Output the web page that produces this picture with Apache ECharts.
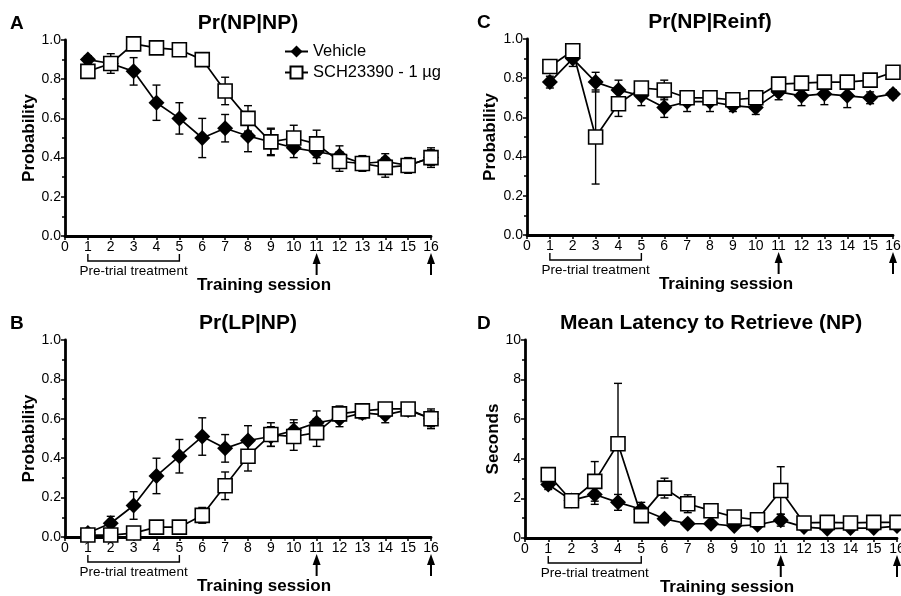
<!DOCTYPE html>
<html lang="en">
<head>
  <meta charset="UTF-8">
  <title>Training session probabilities</title>
  <style>
    * { margin: 0; padding: 0; box-sizing: border-box; }
    body { background: #fff; }
    #chart { width: 901px; height: 596px; }
  </style>
</head>
<body>
  <div id="chart"></div>
  <script src="https://cdn.jsdelivr.net/npm/echarts@6/dist/echarts.min.js"></script>
  <script>
    const sessions = [1, 2, 3, 4, 5, 6, 7, 8, 9, 10, 11, 12, 13, 14, 15, 16]
    const pretrialSessions = [1, 5]
    const arrowSessions = [11, 16]
    const seriesNames = ['Vehicle', 'SCH23390 - 1 µg']

    // A: Pr(NP|NP)
    const npnpVehicle = [0.90, 0.88, 0.84, 0.68, 0.60, 0.50, 0.55, 0.51, 0.48, 0.45, 0.43, 0.41, 0.37, 0.38, 0.36, 0.40]
    const npnpVehicleErr = [0.02, 0.05, 0.07, 0.09, 0.08, 0.10, 0.07, 0.08, 0.07, 0.05, 0.06, 0.05, 0.03, 0.04, 0.03, 0.04]
    const npnpSch = [0.84, 0.88, 0.98, 0.96, 0.95, 0.90, 0.74, 0.60, 0.48, 0.50, 0.47, 0.38, 0.37, 0.35, 0.36, 0.40]
    const npnpSchErr = [0.02, 0.02, 0.01, 0.01, 0.01, 0.03, 0.07, 0.065, 0.065, 0.065, 0.07, 0.05, 0.04, 0.05, 0.04, 0.05]

    // B: Pr(LP|NP)
    const lpnpVehicle = [0.02, 0.07, 0.16, 0.31, 0.41, 0.51, 0.45, 0.49, 0.51, 0.54, 0.58, 0.60, 0.63, 0.62, 0.645, 0.60]
    const lpnpVehicleErr = [0.01, 0.035, 0.07, 0.09, 0.085, 0.095, 0.07, 0.075, 0.05, 0.055, 0.06, 0.04, 0.03, 0.04, 0.03, 0.04]
    const lpnpSch = [0.01, 0.01, 0.02, 0.05, 0.05, 0.11, 0.26, 0.41, 0.52, 0.51, 0.53, 0.625, 0.64, 0.65, 0.65, 0.60]
    const lpnpSchErr = [0.005, 0.005, 0.01, 0.01, 0.01, 0.04, 0.07, 0.075, 0.06, 0.07, 0.07, 0.04, 0.03, 0.03, 0.03, 0.05]

    // C: Pr(NP|Reinf)
    const reinfVehicle = [0.78, 0.90, 0.78, 0.74, 0.71, 0.65, 0.68, 0.68, 0.66, 0.65, 0.73, 0.71, 0.72, 0.71, 0.70, 0.72]
    const reinfVehicleErr = [0.03, 0.04, 0.05, 0.05, 0.05, 0.05, 0.05, 0.05, 0.03, 0.035, 0.04, 0.05, 0.055, 0.06, 0.03, 0.02]
    const reinfSch = [0.86, 0.94, 0.50, 0.67, 0.75, 0.74, 0.70, 0.70, 0.69, 0.70, 0.77, 0.775, 0.78, 0.78, 0.79, 0.83]
    const reinfSchErr = [0.03, 0.02, 0.24, 0.065, 0.02, 0.05, 0.03, 0.03, 0.03, 0.03, 0.03, 0.02, 0.02, 0.02, 0.02, 0.02]

    // D: Mean latency to retrieve (s)
    const latVehicle = [2.7, 1.9, 2.2, 1.8, 1.45, 0.97, 0.72, 0.72, 0.6, 0.67, 0.9, 0.55, 0.47, 0.5, 0.5, 0.6]
    const latVehicleErr = [0.25, 0.2, 0.5, 0.4, 0.35, 0.1, 0.1, 0.1, 0.1, 0.1, 0.3, 0.1, 0.1, 0.1, 0.1, 0.1]
    const latSch = [3.2, 1.88, 2.86, 4.76, 1.13, 2.52, 1.73, 1.38, 1.06, 0.92, 2.4, 0.76, 0.79, 0.76, 0.79, 0.79]
    const latSchErr = [0.3, 0.1, 1.0, 3.05, 0.15, 0.5, 0.45, 0.2, 0.15, 0.1, 1.2, 0.1, 0.1, 0.1, 0.1, 0.1]

    const FONT = '"Liberation Sans", Arial, sans-serif'

    const panels = [
      { letter: 'A', title: 'Pr(NP|NP)', yName: 'Probability', max: 1, interval: 0.2, digits: 1,
        letterX: 10, nameGap: 27,
        grid: { left: 65, top: 40, width: 366, height: 196 },
        veh: npnpVehicle, vehErr: npnpVehicleErr, sch: npnpSch, schErr: npnpSchErr },
      { letter: 'B', title: 'Pr(LP|NP)', yName: 'Probability', max: 1, interval: 0.2, digits: 1,
        letterX: 10, nameGap: 27,
        grid: { left: 65, top: 340, width: 366, height: 197 },
        veh: lpnpVehicle, vehErr: lpnpVehicleErr, sch: lpnpSch, schErr: lpnpSchErr },
      { letter: 'C', title: 'Pr(NP|Reinf)', yName: 'Probability', max: 1, interval: 0.2, digits: 1,
        letterX: 477, nameGap: 28,
        grid: { left: 527, top: 39, width: 366, height: 196 },
        veh: reinfVehicle, vehErr: reinfVehicleErr, sch: reinfSch, schErr: reinfSchErr },
      { letter: 'D', title: 'Mean Latency to Retrieve (NP)', yName: 'Seconds', max: 10, interval: 2, digits: 0,
        letterX: 477, nameGap: 23,
        grid: { left: 525, top: 340, width: 372, height: 198 },
        veh: latVehicle, vehErr: latVehicleErr, sch: latSch, schErr: latSchErr }
    ]

    function errorBar(params, api) {
      const x = api.value(0), y = api.value(1), e = api.value(2)
      const hi = api.coord([x, y + e])
      const lo = api.coord([x, Math.max(0, y - e)])
      const w = 4
      const style = { stroke: '#000', lineWidth: 1.4 }
      return {
        type: 'group',
        children: [
          { type: 'line', shape: { x1: hi[0], y1: hi[1], x2: lo[0], y2: lo[1] }, style },
          { type: 'line', shape: { x1: hi[0] - w, y1: hi[1], x2: hi[0] + w, y2: hi[1] }, style },
          { type: 'line', shape: { x1: lo[0] - w, y1: lo[1], x2: lo[0] + w, y2: lo[1] }, style }
        ]
      }
    }

    // bracket under sessions 1-5
    function bracket(params, api) {
      const a = api.coord([api.value(0), 0])
      const b = api.coord([api.value(1), 0])
      const y0 = a[1] + 18, y1 = a[1] + 25
      return {
        type: 'group',
        children: [
          { type: 'polyline', shape: { points: [[a[0], y0], [a[0], y1], [b[0], y1], [b[0], y0]] },
            style: { fill: null, stroke: '#000', lineWidth: 1.4 } },
          { type: 'text', style: { x: (a[0] + b[0]) / 2, y: a[1] + 35, text: 'Pre-trial treatment', fill: '#000',
            font: '13.5px ' + FONT, align: 'center', verticalAlign: 'middle' } }
        ]
      }
    }

    // upward arrows at sessions 11 and 16
    function arrow(params, api) {
      const p = api.coord([api.value(0), 0])
      const tip = p[1] + 17
      return {
        type: 'group',
        children: [
          { type: 'line', shape: { x1: p[0], y1: tip + 8, x2: p[0], y2: tip + 22 }, style: { stroke: '#000', lineWidth: 2 } },
          { type: 'polygon', shape: { points: [[p[0], tip], [p[0] - 4, tip + 11], [p[0] + 4, tip + 11]] }, style: { fill: '#000' } }
        ]
      }
    }

    const titles = []
    const grids = []
    const xAxes = []
    const yAxes = []
    const series = []

    panels.forEach(function (p, i) {
      const cx = p.grid.left + p.grid.width / 2
      titles.push({ text: p.letter, left: p.letterX, top: p.grid.top - 26, padding: 0,
        textStyle: { fontFamily: FONT, fontSize: 19, fontWeight: 'bold', color: '#000' } })
      titles.push({ text: p.title, left: cx, top: p.grid.top - 27, padding: 0, textAlign: 'center',
        textStyle: { fontFamily: FONT, fontSize: 21, fontWeight: 'bold', color: '#000' } })
      grids.push(Object.assign({ outerBoundsMode: 'none', containLabel: false }, p.grid))
      xAxes.push({
        type: 'value', gridIndex: i, min: 0, max: 16, interval: 1,
        name: 'Training session', nameLocation: 'middle', nameGap: 41,
        nameTextStyle: { fontFamily: FONT, fontSize: 17, fontWeight: 'bold', color: '#000', padding: [0, 0, 0, 32] },
        axisLine: { onZero: false, lineStyle: { color: '#000', width: 2.8 } },
        axisTick: { length: 4, lineStyle: { color: '#000', width: 1.5 } },
        axisLabel: { fontFamily: FONT, fontSize: 14, color: '#000', margin: 4 },
        splitLine: { show: false }
      })
      yAxes.push({
        type: 'value', gridIndex: i, min: 0, max: p.max, interval: p.interval,
        name: p.yName, nameLocation: 'middle', nameGap: p.nameGap,
        nameTextStyle: { fontFamily: FONT, fontSize: 17, fontWeight: 'bold', color: '#000' },
        axisLine: { show: true, lineStyle: { color: '#000', width: 2.8 } },
        axisTick: { show: true, length: 4, lineStyle: { color: '#000', width: 1.5 } },
        minorTick: { show: true, splitNumber: 2, length: 3, lineStyle: { color: '#000', width: 1.5 } },
        axisLabel: { fontFamily: FONT, fontSize: 14, color: '#000', margin: 4,
          formatter: function (v) { return v.toFixed(p.digits) } },
        splitLine: { show: false }
      })
      series.push({
        type: 'custom', name: 'errVeh' + p.letter, xAxisIndex: i, yAxisIndex: i, z: 1, clip: false,
        renderItem: errorBar, data: sessions.map(function (s, k) { return [s, p.veh[k], p.vehErr[k]] })
      })
      series.push({
        type: 'custom', name: 'errSch' + p.letter, xAxisIndex: i, yAxisIndex: i, z: 1, clip: false,
        renderItem: errorBar, data: sessions.map(function (s, k) { return [s, p.sch[k], p.schErr[k]] })
      })
      series.push({
        type: 'line', name: seriesNames[0], xAxisIndex: i, yAxisIndex: i, z: 2,
        symbol: 'diamond', symbolSize: 16, showAllSymbol: true,
        itemStyle: { color: '#000' }, lineStyle: { color: '#000', width: 1.7 },
        data: sessions.map(function (s, k) { return [s, p.veh[k]] })
      })
      series.push({
        type: 'line', name: seriesNames[1], xAxisIndex: i, yAxisIndex: i, z: 3,
        symbol: 'rect', symbolSize: 14, showAllSymbol: true,
        itemStyle: { color: '#fff', borderColor: '#000', borderWidth: 1.6 }, lineStyle: { color: '#000', width: 1.7 },
        data: sessions.map(function (s, k) { return [s, p.sch[k]] })
      })
      series.push({
        type: 'custom', name: 'bracket' + p.letter, xAxisIndex: i, yAxisIndex: i, clip: false, silent: true,
        renderItem: bracket, data: [pretrialSessions]
      })
      series.push({
        type: 'custom', name: 'arrows' + p.letter, xAxisIndex: i, yAxisIndex: i, clip: false, silent: true,
        renderItem: arrow, data: arrowSessions.map(function (s) { return [s] })
      })
    })

    const chart = echarts.init(document.getElementById('chart'))
    chart.setOption({
      animation: false,
      backgroundColor: '#fff',
      title: titles,
      legend: {
        data: seriesNames, orient: 'vertical', left: 279, top: 38, itemGap: 4,
        itemWidth: 23, itemHeight: 15,
        textStyle: { fontFamily: FONT, fontSize: 16.5, color: '#000' }
      },
      grid: grids,
      xAxis: xAxes,
      yAxis: yAxes,
      series: series
    })
  </script>
</body>
</html>
